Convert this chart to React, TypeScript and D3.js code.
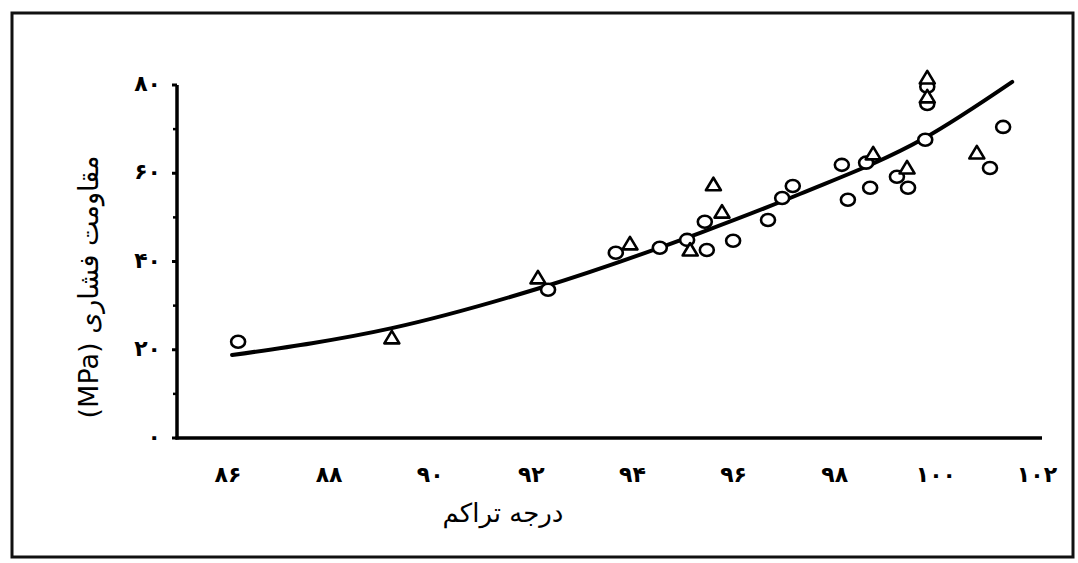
import React from "react";
import * as d3 from "d3";

// ---- data ----
const xTicks = [86, 88, 90, 92, 94, 96, 98, 100, 102];
const yTicks = [0, 20, 40, 60, 80];
const yMinorTicks = [10, 30, 50, 70];

const circleX = [86.2, 92.33, 93.67, 94.54, 95.08, 95.47, 95.43, 95.99, 96.68, 96.96, 97.17, 98.14, 98.62, 98.26, 98.7, 99.23, 99.45, 99.79, 99.83, 99.83, 101.33, 101.07];
const circleY = [21.8, 33.6, 42.0, 43.1, 44.9, 42.6, 49.0, 44.7, 49.4, 54.4, 57.1, 61.9, 62.4, 54.0, 56.7, 59.2, 56.7, 67.6, 79.6, 75.7, 70.5, 61.2];

const triangleX = [89.24, 92.13, 93.95, 95.14, 95.77, 95.6, 98.76, 99.43, 99.83, 99.83, 100.81];
const triangleY = [22.7, 36.3, 44.0, 42.6, 51.2, 57.4, 64.4, 61.2, 81.6, 77.3, 64.6];

const curveX = [86.08, 89.24, 92.17, 95.34, 97.31, 99.75, 101.51];
const curveY = [18.8, 24.9, 34.0, 46.5, 55.3, 67.8, 80.7];

const xTitle = "درجه تراکم";
const yTitle = "مقاومت فشاری (MPa)";

const faDigits = "۰۱۲۳۴۵۶۷۸۹";
const fa = (n: number) => String(n).replace(/\d/g, (d) => faDigits[+d]);

export default function App() {
  const W = 1078;
  const H = 563;
  const x = d3.scaleLinear().domain([86, 102]).range([228, 1037]);
  const y = d3.scaleLinear().domain([0, 80]).range([438, 85]);
  const axisLeft = 177;
  const axisRight = 1042;

  const line = d3
    .line<[number, number]>()
    .x((d) => x(d[0]))
    .y((d) => y(d[1]))
    .curve(d3.curveMonotoneX);
  const curvePts: [number, number][] = curveX.map((v, i) => [v, curveY[i]]);

  const tri = "M0,-7L7.5,5.5L-7.5,5.5Z";
  const persianFont = "'DejaVu Sans', 'Noto Sans', sans-serif";

  return (
    <svg
      width={W}
      height={H}
      style={{ position: "absolute", left: 0, top: 0, display: "block", background: "#fff" }}
    >
      <rect x={0} y={0} width={W} height={H} fill="#fff" />
      {/* frame */}
      <rect x={12} y={13} width={1061} height={544} fill="none" stroke="#111" strokeWidth={3} />

      {/* axes */}
      <line x1={axisLeft} x2={axisLeft} y1={y(80)} y2={y(0) + 1.5} stroke="#000" strokeWidth={3.5} />
      <line x1={axisLeft - 1.5} x2={axisRight} y1={y(0)} y2={y(0)} stroke="#000" strokeWidth={3.5} />
      {yTicks.map((t) => (
        <line key={"t" + t} x1={axisLeft - 5} x2={axisLeft} y1={y(t)} y2={y(t)} stroke="#000" strokeWidth={3} />
      ))}
      {yMinorTicks.map((t) => (
        <line key={"m" + t} x1={axisLeft - 4} x2={axisLeft} y1={y(t)} y2={y(t)} stroke="#000" strokeWidth={2.5} />
      ))}

      {/* y tick labels */}
      {yTicks.map((t) => (
        <text
          key={"yl" + t}
          x={161}
          y={y(t)}
          textAnchor="end"
          dominantBaseline="middle"
          fontFamily={persianFont}
          fontSize={22}
          fontWeight="bold"
          letterSpacing={5}
          direction="ltr"
        >
          {fa(t)}
        </text>
      ))}

      {/* x tick labels */}
      {xTicks.map((t) => (
        <text
          key={"xl" + t}
          x={x(t)}
          y={476}
          textAnchor="middle"
          dominantBaseline="middle"
          fontFamily={persianFont}
          fontSize={22}
          fontWeight="bold"
          letterSpacing={6}
          direction="ltr"
        >
          {fa(t)}
        </text>
      ))}

      {/* axis titles */}
      <text
        x={503}
        y={514}
        textAnchor="middle"
        dominantBaseline="middle"
        fontFamily={persianFont}
        fontSize={26}
        direction="rtl"
      >
        {xTitle}
      </text>
      <text
        transform={`translate(90,287) rotate(-90)`}
        textAnchor="middle"
        dominantBaseline="middle"
        fontFamily={persianFont}
        fontSize={27}
        direction="rtl"
      >
        {yTitle}
      </text>

      {/* fitted curve */}
      <path d={line(curvePts) || ""} fill="none" stroke="#000" strokeWidth={4} strokeLinecap="round" />

      {/* markers */}
      {circleX.map((v, i) => (
        <ellipse
          key={"c" + i}
          cx={x(v)}
          cy={y(circleY[i])}
          rx={7}
          ry={6}
          fill="#fff"
          stroke="#000"
          strokeWidth={2.6}
        />
      ))}
      {triangleX.map((v, i) => (
        <path
          key={"tr" + i}
          d={tri}
          transform={`translate(${x(v)},${y(triangleY[i])})`}
          fill="#fff"
          stroke="#000"
          strokeWidth={2.6}
          strokeLinejoin="round"
        />
      ))}
    </svg>
  );
}
